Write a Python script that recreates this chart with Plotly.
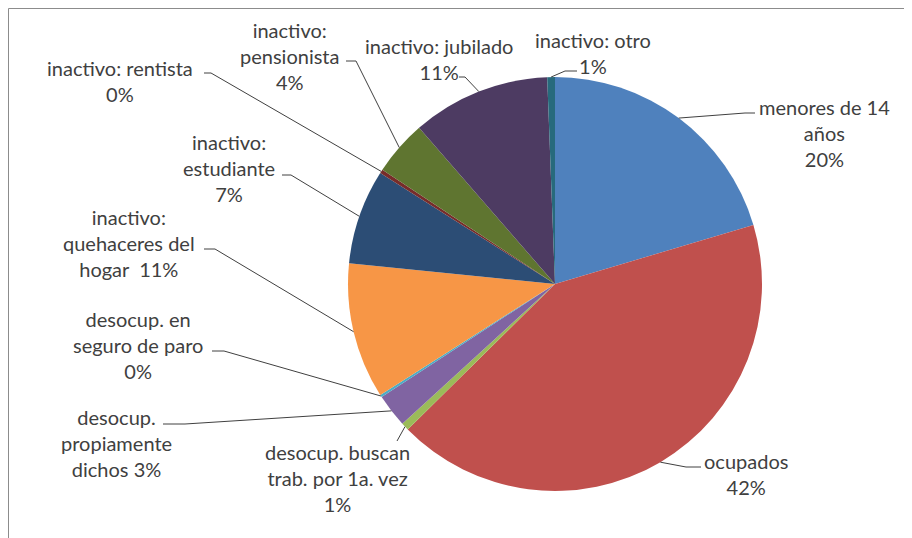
import math
import plotly.graph_objects as go

# the page body has an 8px margin, so the figure is drawn 8px in from the window
OFF = 8
W, H = 912 - OFF, 538 - OFF

categories = [
    "menores de 14 años", "ocupados", "desocup. buscan trab. por 1a. vez",
    "desocup. propiamente dichos", "desocup. en seguro de paro",
    "inactivo: quehaceres del hogar", "inactivo: estudiante",
    "inactivo: rentista", "inactivo: pensionista", "inactivo: jubilado",
    "inactivo: otro",
]
values = [20.4, 42.2, 0.6, 2.6, 0.2, 10.6, 7.4, 0.3, 4.3, 10.8, 0.6]
colors = [
    "#4F81BD", "#C0504D", "#9BBB59", "#8064A2", "#4BACC6", "#F79646",
    "#2C4D75", "#772C2A", "#5F7530", "#4D3B62", "#276A7C",
]
# label text, {} gets the rounded percent
label_text = [
    "menores de 14<br>años<br>{}%",
    "ocupados<br>{}%",
    "desocup. buscan<br>trab. por 1a. vez<br>{}%",
    "desocup.<br>propiamente<br>dichos {}%",
    "desocup. en<br>seguro de paro<br>{}%",
    "inactivo:<br>quehaceres del<br>hogar \u00a0{}%",
    "inactivo:<br>estudiante<br>{}%",
    "inactivo: rentista<br>{}%",
    "inactivo:<br>pensionista<br>{}%",
    "inactivo: jubilado<br>{}%",
    "inactivo: otro<br>{}%",
]

# label placement (window pixels): block centre, then leader stub (text end, knee)
label_pos = [(824, 133), (746, 474), (337, 478), (116, 443), (138, 345),
             (129, 243), (229, 168), (120, 81), (289, 56), (439, 59), (593, 53)]
stubs = [((755, 113), (745, 113)), ((701, 467), (686, 467)),
         ((397, 441), (397, 441)), ((163, 424), (185, 424)),
         ((212, 351), (224, 351)), ((204, 249), (215, 249)),
         ((282, 175), (291, 175)), ((204, 73), (211, 73)),
         ((346, 61), (356, 61)), ((459, 77), (465, 77)),
         ((577, 71), (565, 71))]

# pie geometry in window pixels
cx, cy, r = 555, 284, 207


def px(x):
    return (x - OFF) / W


def py(y):
    return 1 - (y - OFF) / H


fig = go.Figure(
    go.Pie(
        labels=categories,
        values=values,
        marker=dict(colors=colors, line=dict(width=0)),
        sort=False,
        direction="clockwise",
        rotation=0,
        textinfo="none",
        hoverinfo="skip",
        domain=dict(x=[px(cx - r), px(cx + r)], y=[py(cy + r), py(cy - r)]),
    )
)

total = sum(values)
cum = 0
shapes = []
annotations = []
for i, v in enumerate(values):
    ang = 2 * math.pi * (cum + v / 2) / total
    cum += v
    ex = cx + r * math.sin(ang)
    ey = cy - r * math.cos(ang)
    (ax, ay), (bx, by) = stubs[i]
    shapes.append(dict(
        type="path", xref="paper", yref="paper",
        path=f"M {px(ax)},{py(ay)} L {px(bx)},{py(by)} L {px(ex)},{py(ey)}",
        line=dict(color="#404040", width=1),
    ))
    lx, ly = label_pos[i]
    annotations.append(dict(
        x=px(lx), y=py(ly), xref="paper", yref="paper",
        text=label_text[i].format(round(v / total * 100)),
        showarrow=False, align="center",
        xanchor="center", yanchor="middle",
        font=dict(size=20, color="#404040", family="Lato"),
    ))

# chart area border (top edge sits just inside the figure)
shapes.append(dict(
    type="rect", xref="paper", yref="paper",
    x0=px(8.5), y0=py(545), x1=px(925), y1=py(8.5),
    line=dict(color="#8c8c8c", width=1),
))

fig.update_layout(
    width=W,
    height=H,
    margin=dict(l=0, r=0, t=0, b=0),
    paper_bgcolor="white",
    showlegend=False,
    shapes=shapes,
    annotations=annotations,
)

fig.write_html("out.html")
